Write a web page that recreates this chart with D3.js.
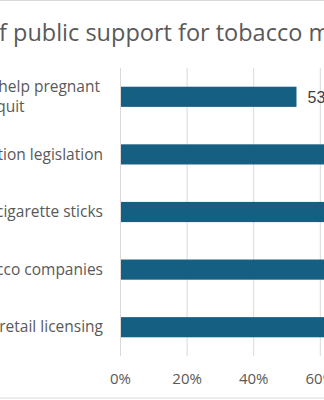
<!DOCTYPE html>
<html><head><meta charset="utf-8">
<script src="https://cdn.jsdelivr.net/npm/d3@7"></script>
<style>body{margin:0;background:#fff;overflow:hidden}svg{display:block}</style>
</head><body><div id="chart"></div>
<script>
const title = "Levels of public support for tobacco measures";
const categories = [
  ["Funding service to help pregnant", "women quit"],
  ["Smokefree generation legislation"],
  ["Ban on sale of single cigarette sticks"],
  ["Restricting donations from tobacco companies"],
  ["Tobacco retail licensing"]
];
const values = [0.53, 0.68, 0.74, 0.77, 0.81];
const xTicks = [0, 0.2, 0.4, 0.6, 0.8, 1.0];

const W = 324, H = 400;
const svg = d3.select("#chart").append("svg").attr("width", W).attr("height", H);
svg.append("rect").attr("x", -200).attr("y", 0.5).attr("width", 800).attr("height", 397.5)
  .attr("fill", "#fff").attr("stroke", "#d9d9d9").attr("stroke-width", 1);

const x = d3.scaleLinear().domain([0, 1]).range([120, 453]);
const y = d3.scaleBand().domain(d3.range(categories.length)).range([68, 356]).paddingInner(0.65).paddingOuter(0.325);

// gridlines
svg.append("g").selectAll("line").data(xTicks).join("line")
  .attr("x1", d => x(d) + 0.5).attr("x2", d => x(d) + 0.5)
  .attr("y1", 68).attr("y2", 356).attr("stroke", "#d9d9d9").attr("stroke-width", 1);

// bars
svg.append("g").selectAll("rect").data(values).join("rect")
  .attr("x", x(0) + 1).attr("y", (d, i) => y(i))
  .attr("width", d => x(d) - x(0) - 1).attr("height", y.bandwidth())
  .attr("fill", "#156082");

// data labels
svg.append("g").selectAll("text").data(values).join("text")
  .attr("x", d => x(d) + 11).attr("y", (d, i) => y(i) + y.bandwidth() / 2)
  .attr("dy", "0.36em").attr("font-family", "Liberation Sans, Arial, sans-serif")
  .attr("font-size", 16).attr("fill", "#404040").text(d => d3.format(".0%")(d));

// x axis
const xAxis = svg.append("g").attr("transform", "translate(0,356)")
  .call(d3.axisBottom(x).tickValues(xTicks).tickFormat(d3.format(".0%")).tickSize(0).tickPadding(17));
xAxis.select(".domain").remove();
xAxis.selectAll("text").attr("font-family", "Open Sans, sans-serif").attr("font-size", 15).attr("fill", "#595959");

// category labels
const labelRight = 103;
const lg = svg.append("g").attr("font-family", "Open Sans, sans-serif").attr("font-size", 15.5).attr("fill", "#595959");
categories.forEach((lines, i) => {
  const cy = y(i) + y.bandwidth() / 2;
  const lh = 19.4;
  const t = lg.append("text").attr("text-anchor", "middle");
  const spans = lines.map((ln, j) => t.append("tspan").attr("y", cy + (j - (lines.length - 1) / 2) * lh).attr("dy", "0.33em").text(ln));
  const widths = spans.map(s => s.node().getComputedTextLength());
  const maxW = d3.max(widths);
  const right = lines.length > 1 ? labelRight - 3 : labelRight;
  spans.forEach(s => s.attr("x", right - maxW / 2));
});

// title
const tt = svg.append("text").attr("y", 41).attr("font-family", "Open Sans, sans-serif")
  .attr("font-size", 23.5).attr("fill", "#595959").text(title);
const off = tt.node().getSubStringLength(0, title.indexOf("f public"));
tt.attr("x", -off - 1);
</script></body></html>
